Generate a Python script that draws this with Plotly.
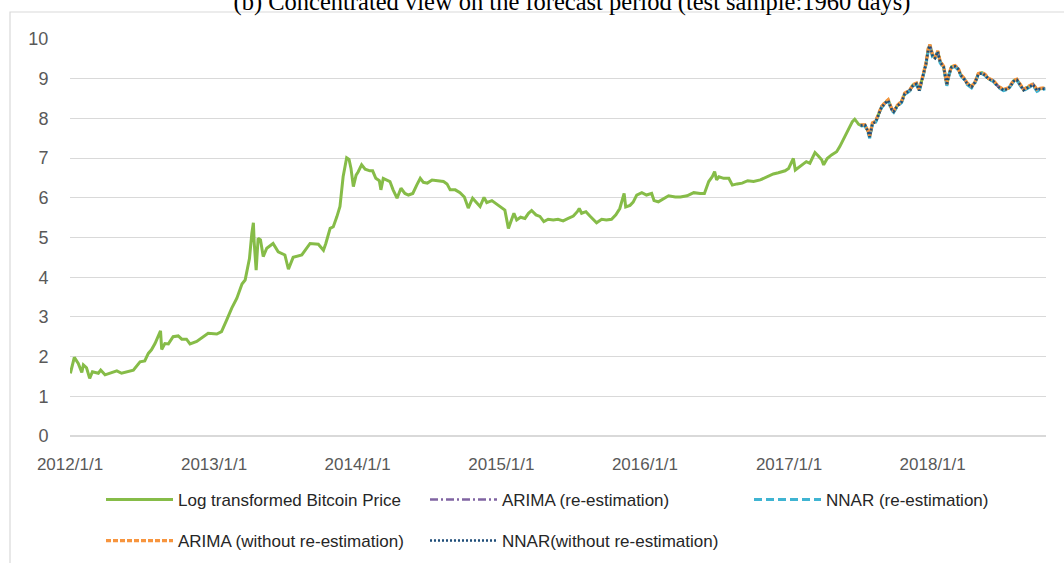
import plotly.graph_objects as go

# ---- data (log of Bitcoin price) ----
train_dates = [
    "2012-01-02", "2012-01-12", "2012-01-22", "2012-01-31", "2012-02-04", "2012-02-12",
    "2012-02-20", "2012-02-27", "2012-03-13", "2012-03-19", "2012-03-30", "2012-04-16",
    "2012-04-29", "2012-05-11", "2012-05-26", "2012-06-10", "2012-06-27", "2012-07-09",
    "2012-07-18", "2012-07-26", "2012-08-04", "2012-08-10", "2012-08-18", "2012-08-21",
    "2012-08-29", "2012-09-07", "2012-09-19", "2012-10-02", "2012-10-11", "2012-10-23",
    "2012-11-01", "2012-11-18", "2012-12-05", "2012-12-17", "2013-01-08", "2013-01-20",
    "2013-02-02", "2013-02-15", "2013-02-28", "2013-03-08", "2013-03-13", "2013-03-21",
    "2013-03-27", "2013-04-01", "2013-04-07", "2013-04-11", "2013-04-13", "2013-04-18",
    "2013-04-23", "2013-04-29", "2013-05-06", "2013-05-15", "2013-05-31", "2013-06-13",
    "2013-06-30", "2013-07-09", "2013-07-21", "2013-08-12", "2013-09-02", "2013-09-23",
    "2013-10-06", "2013-10-12", "2013-10-23", "2013-10-31", "2013-11-09", "2013-11-17",
    "2013-11-25", "2013-12-04", "2013-12-10", "2013-12-15", "2013-12-21", "2013-12-28",
    "2014-01-02", "2014-01-11", "2014-01-20", "2014-02-01", "2014-02-08", "2014-02-16",
    "2014-02-25", "2014-03-01", "2014-03-07", "2014-03-16", "2014-03-24", "2014-04-01",
    "2014-04-11", "2014-04-21", "2014-05-01", "2014-05-10", "2014-05-21", "2014-05-31",
    "2014-06-09", "2014-06-17", "2014-06-27", "2014-07-09", "2014-07-21", "2014-08-07",
    "2014-08-16", "2014-08-24", "2014-09-06", "2014-09-18", "2014-09-29", "2014-10-09",
    "2014-10-20", "2014-10-31", "2014-11-08", "2014-11-18", "2014-11-25", "2014-12-08",
    "2014-12-20", "2015-01-02", "2015-01-10", "2015-01-19", "2015-01-27", "2015-02-02",
    "2015-02-09", "2015-02-19", "2015-03-02", "2015-03-11", "2015-03-19", "2015-03-30",
    "2015-04-09", "2015-04-19", "2015-04-30", "2015-05-13", "2015-05-25", "2015-06-07",
    "2015-06-20", "2015-07-03", "2015-07-13", "2015-07-18", "2015-07-24", "2015-08-04",
    "2015-08-14", "2015-08-24", "2015-08-31", "2015-09-13", "2015-09-25", "2015-10-08",
    "2015-10-19", "2015-10-29", "2015-11-05", "2015-11-09", "2015-11-13", "2015-11-24",
    "2015-12-02", "2015-12-11", "2015-12-24", "2016-01-05", "2016-01-18", "2016-01-24",
    "2016-02-04", "2016-02-16", "2016-03-01", "2016-03-18", "2016-03-31", "2016-04-17",
    "2016-05-04", "2016-05-20", "2016-05-31", "2016-06-11", "2016-06-20", "2016-06-26",
    "2016-07-01", "2016-07-07", "2016-07-19", "2016-08-01", "2016-08-10", "2016-08-22",
    "2016-09-04", "2016-09-18", "2016-10-03", "2016-10-20", "2016-11-06", "2016-11-22",
    "2016-12-05", "2016-12-22", "2016-12-31", "2017-01-08", "2017-01-12", "2017-01-17",
    "2017-01-25", "2017-02-02", "2017-02-14", "2017-02-23", "2017-03-08", "2017-03-16",
    "2017-03-25", "2017-03-30", "2017-04-08", "2017-04-19", "2017-05-02", "2017-05-10",
    "2017-05-19", "2017-05-27", "2017-06-05", "2017-06-11", "2017-06-17", "2017-06-23",
    "2017-06-27",
]
train_values = [
    1.58, 1.98, 1.83, 1.60, 1.79, 1.72,
    1.45, 1.62, 1.58, 1.66, 1.54, 1.60,
    1.64, 1.58, 1.62, 1.66, 1.87, 1.89,
    2.08, 2.17, 2.33, 2.46, 2.65, 2.18,
    2.33, 2.32, 2.50, 2.52, 2.44, 2.44,
    2.32, 2.38, 2.50, 2.59, 2.57, 2.63,
    2.92, 3.22, 3.47, 3.72, 3.83, 3.93,
    4.26, 4.47, 5.10, 5.37, 4.88, 4.18,
    4.98, 4.94, 4.52, 4.73, 4.85, 4.64,
    4.56, 4.20, 4.50, 4.56, 4.85, 4.83,
    4.68, 4.85, 5.23, 5.27, 5.52, 5.78,
    6.53, 7.01, 6.97, 6.74, 6.28, 6.57,
    6.65, 6.83, 6.72, 6.68, 6.68, 6.49,
    6.43, 6.20, 6.49, 6.45, 6.41, 6.20,
    5.99, 6.24, 6.11, 6.07, 6.11, 6.32,
    6.49, 6.39, 6.37, 6.45, 6.43, 6.41,
    6.35, 6.20, 6.20, 6.13, 6.02, 5.74,
    5.99, 5.87, 5.78, 6.01, 5.88, 5.93,
    5.85, 5.76, 5.69, 5.23, 5.46, 5.61,
    5.44, 5.51, 5.48, 5.61, 5.68, 5.57,
    5.53, 5.40, 5.46, 5.44, 5.46, 5.42,
    5.48, 5.54, 5.65, 5.73, 5.61, 5.65,
    5.54, 5.44, 5.37, 5.46, 5.44, 5.46,
    5.57, 5.73, 5.94, 6.11, 5.77, 5.81,
    5.89, 6.07, 6.13, 6.07, 6.11, 5.93,
    5.90, 5.96, 6.05, 6.02, 6.02, 6.05,
    6.13, 6.11, 6.11, 6.41, 6.53, 6.66,
    6.45, 6.53, 6.49, 6.49, 6.32, 6.35,
    6.37, 6.43, 6.41, 6.45, 6.53, 6.60,
    6.63, 6.68, 6.74, 6.91, 6.99, 6.70,
    6.76, 6.81, 6.91, 6.87, 7.14, 7.06,
    6.96, 6.83, 6.99, 7.08, 7.16, 7.29,
    7.46, 7.62, 7.81, 7.92, 7.98, 7.90,
    7.85,
]

test_dates = [
    "2017-07-02", "2017-07-13", "2017-07-21", "2017-07-25", "2017-08-01", "2017-08-09",
    "2017-08-16", "2017-08-24", "2017-09-02", "2017-09-10", "2017-09-19", "2017-09-24",
    "2017-10-03", "2017-10-14", "2017-10-22", "2017-11-04", "2017-11-12", "2017-11-21",
    "2017-11-28", "2017-12-06", "2017-12-15", "2017-12-21", "2017-12-25", "2018-01-01",
    "2018-01-07", "2018-01-14", "2018-01-20", "2018-01-29", "2018-02-06", "2018-02-12",
    "2018-02-18", "2018-02-27", "2018-03-07", "2018-03-13", "2018-03-22", "2018-03-30",
    "2018-04-10", "2018-04-19", "2018-04-27", "2018-05-06", "2018-05-14", "2018-05-23",
    "2018-06-04", "2018-06-17", "2018-06-30", "2018-07-13", "2018-07-26", "2018-08-03",
    "2018-08-11", "2018-08-20", "2018-09-02", "2018-09-13", "2018-09-23", "2018-10-01",
    "2018-10-14",
]
test_actual = [
    7.83, 7.83, 7.67, 7.54, 7.88, 7.92,
    8.09, 8.29, 8.39, 8.46, 8.23, 8.18,
    8.32, 8.42, 8.63, 8.71, 8.84, 8.88,
    8.71, 9.05, 9.38, 9.76, 9.85, 9.58,
    9.53, 9.69, 9.43, 9.30, 8.85, 9.13,
    9.30, 9.32, 9.25, 9.10, 9.00, 8.88,
    8.80, 8.92, 9.12, 9.15, 9.10, 9.00,
    8.95, 8.80, 8.72, 8.76, 8.95, 8.98,
    8.86, 8.72, 8.80, 8.86, 8.72, 8.75,
    8.76,
]
# the four one-step forecasts sit on top of the actual series
arima_re = [
    7.83, 7.83, 7.67, 7.54, 7.88, 7.92,
    8.09, 8.29, 8.39, 8.46, 8.23, 8.18,
    8.32, 8.42, 8.63, 8.71, 8.84, 8.88,
    8.71, 9.05, 9.38, 9.76, 9.85, 9.58,
    9.53, 9.69, 9.43, 9.30, 8.85, 9.13,
    9.30, 9.32, 9.25, 9.10, 9.00, 8.88,
    8.80, 8.92, 9.12, 9.15, 9.10, 9.00,
    8.95, 8.80, 8.72, 8.76, 8.95, 8.98,
    8.86, 8.72, 8.80, 8.86, 8.72, 8.75,
    8.76,
]
nnar_re = [
    7.81, 7.82, 7.64, 7.50, 7.86, 7.90,
    8.07, 8.27, 8.37, 8.44, 8.20, 8.15,
    8.30, 8.40, 8.60, 8.69, 8.82, 8.86,
    8.68, 9.02, 9.35, 9.72, 9.80, 9.54,
    9.50, 9.66, 9.40, 9.27, 8.82, 9.10,
    9.28, 9.30, 9.22, 9.08, 8.98, 8.85,
    8.77, 8.90, 9.10, 9.13, 9.08, 8.98,
    8.93, 8.78, 8.70, 8.74, 8.93, 8.96,
    8.84, 8.70, 8.77, 8.84, 8.68, 8.72,
    8.74,
]
arima_fixed = [
    7.84, 7.84, 7.68, 7.56, 7.89, 7.93,
    8.10, 8.30, 8.40, 8.47, 8.24, 8.19,
    8.33, 8.43, 8.64, 8.72, 8.85, 8.89,
    8.72, 9.06, 9.39, 9.77, 9.86, 9.59,
    9.54, 9.70, 9.44, 9.31, 8.86, 9.14,
    9.31, 9.33, 9.26, 9.11, 9.01, 8.89,
    8.81, 8.93, 9.13, 9.16, 9.11, 9.01,
    8.96, 8.81, 8.73, 8.77, 8.96, 8.99,
    8.87, 8.73, 8.81, 8.87, 8.73, 8.76,
    8.77,
]
nnar_fixed = [
    7.82, 7.83, 7.66, 7.53, 7.87, 7.91,
    8.08, 8.28, 8.38, 8.45, 8.22, 8.17,
    8.31, 8.41, 8.62, 8.70, 8.83, 8.87,
    8.70, 9.04, 9.37, 9.74, 9.83, 9.57,
    9.52, 9.68, 9.42, 9.29, 8.84, 9.12,
    9.29, 9.31, 9.24, 9.09, 8.99, 8.87,
    8.79, 8.91, 9.11, 9.14, 9.09, 8.99,
    8.94, 8.79, 8.71, 8.75, 8.94, 8.97,
    8.85, 8.71, 8.79, 8.85, 8.71, 8.74,
    8.75,
]

tick_dates = ["2012-01-01", "2013-01-01", "2014-01-01", "2015-01-01",
              "2016-01-01", "2017-01-01", "2018-01-01"]
tick_labels = ["2012/1/1", "2013/1/1", "2014/1/1", "2015/1/1",
               "2016/1/1", "2017/1/1", "2018/1/1"]

W, H = 1064, 563
SANS = "Liberation Sans, Arial, sans-serif"

fig = go.Figure()

fig.add_trace(go.Scatter(
    x=train_dates + test_dates, y=train_values + test_actual, mode="lines",
    name="Log transformed Bitcoin Price", legend="legend",
    line=dict(color="#86BC48", width=3)))
fig.add_trace(go.Scatter(
    x=test_dates, y=arima_re, mode="lines", name="ARIMA (re-estimation)",
    legend="legend", line=dict(color="#8064A2", width=2.6, dash="8px,3px,2px,3px")))
fig.add_trace(go.Scatter(
    x=test_dates, y=nnar_re, mode="lines", name="NNAR (re-estimation)",
    legend="legend", line=dict(color="#3FB4D2", width=3, dash="8px,4px")))
fig.add_trace(go.Scatter(
    x=test_dates, y=arima_fixed, mode="lines", name="ARIMA (without re-estimation)",
    legend="legend2", line=dict(color="#F7953E", width=3.2, dash="5px,2px")))
fig.add_trace(go.Scatter(
    x=test_dates, y=nnar_fixed, mode="lines", name="NNAR(without re-estimation)",
    legend="legend2", line=dict(color="#1F4E79", width=2.6, dash="2px,2px")))

legend_common = dict(
    orientation="h", xref="container", yref="container",
    x=101 / W, xanchor="left", yanchor="middle",
    font=dict(family=SANS, size=17, color="#262626"),
    itemwidth=67, entrywidth=242, entrywidthmode="pixels",
    bgcolor="rgba(0,0,0,0)", traceorder="normal",
)

fig.update_layout(
    width=W, height=H,
    margin=dict(l=70, r=W - 1046, t=39, b=H - 436, autoexpand=False),
    paper_bgcolor="white", plot_bgcolor="white",
    title=dict(
        text="(b) Concentrated view on the forecast period (test sample:1960 days)",
        font=dict(family="Liberation Serif, Times New Roman, serif", size=24.5, color="#000000"),
        x=572 / W, xanchor="center", xref="container",
        y=1 - 1 / H, yanchor="middle", yref="container"),
    legend=dict(legend_common, y=1 - 500 / H),
    legend2=dict(legend_common, y=1 - 541 / H),
    xaxis=dict(
        type="date", range=["2012-01-01", "2018-10-16"], automargin=False,
        tickvals=tick_dates, ticktext=tick_labels,
        showgrid=False, zeroline=False, showline=False,
        ticks="outside", ticklen=13, tickcolor="rgba(0,0,0,0)",
        tickfont=dict(family=SANS, size=17, color="#595959")),
    yaxis=dict(
        range=[0, 10], dtick=1, tick0=0, automargin=False,
        showgrid=True, gridcolor="#D9D9D9", gridwidth=1.4,
        zeroline=True, zerolinecolor="#D9D9D9", zerolinewidth=1.6,
        showline=False,
        ticks="outside", ticklen=17, tickcolor="rgba(0,0,0,0)",
        tickfont=dict(family=SANS, size=18, color="#595959")),
    shapes=[dict(
        type="rect", xref="paper", yref="paper",
        x0=(10 - 70) / 976, x1=(1090 - 70) / 976,
        y0=(436 - 590) / 397, y1=(436 - 12) / 397,
        line=dict(color="#D9D9D9", width=1.2), fillcolor="rgba(0,0,0,0)", layer="below")],
    showlegend=True,
)

# page body has a default 8px margin; drop it so the figure sits at the window corner
fig.write_html("out.html", config={"displayModeBar": False},
               post_script="document.body.style.margin = '0';")
